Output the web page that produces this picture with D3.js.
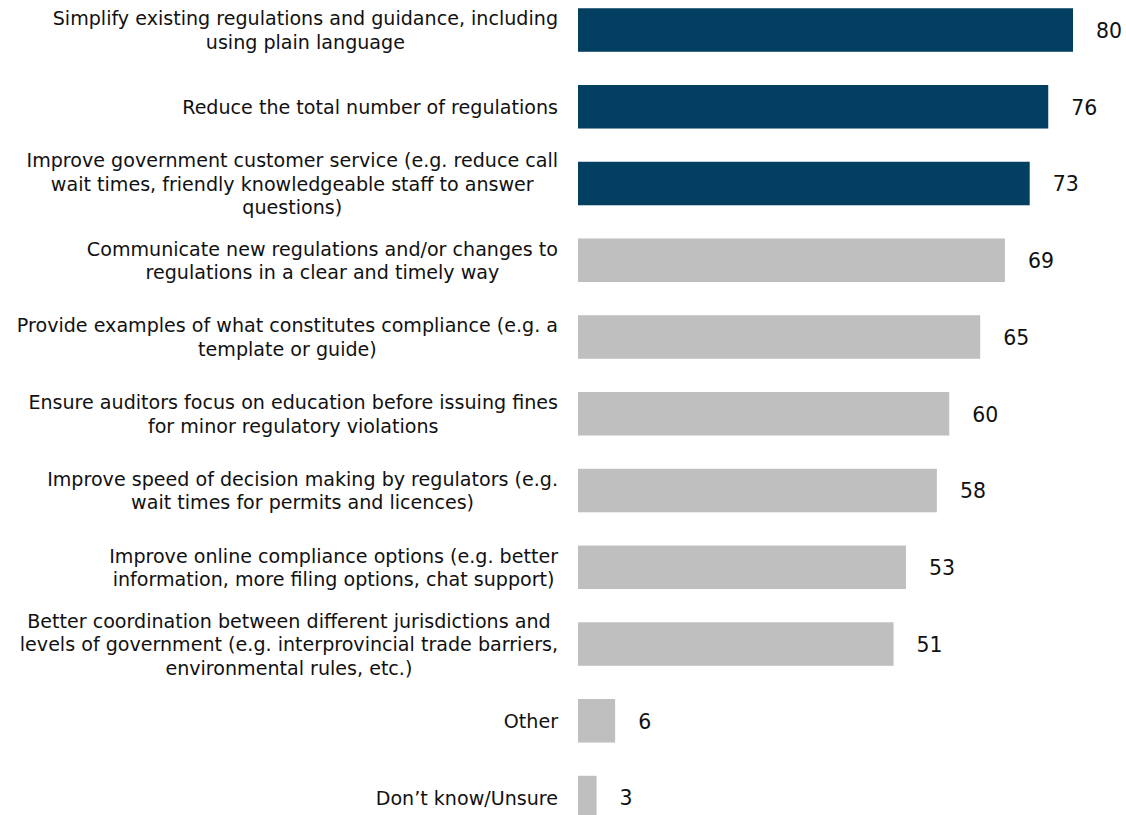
<!DOCTYPE html>
<html>
<head>
<meta charset="utf-8">
<script src="https://cdn.jsdelivr.net/npm/d3@7"></script>
<style>
  html, body { margin: 0; padding: 0; background: #ffffff; }
  svg { display: block; }
  text { font-family: "DejaVu Sans", "Noto Sans", sans-serif; fill: #111111; }
</style>
</head>
<body>
<svg id="chart" width="1126" height="815"></svg>
<script>
// Category labels, one array of lines per bar (top to bottom)
const categories = [
  ["Simplify existing regulations and guidance, including", "using plain language"],
  ["Reduce the total number of regulations"],
  ["Improve government customer service (e.g. reduce call", "wait times, friendly knowledgeable staff to answer", "questions)"],
  ["Communicate new regulations and/or changes to", "regulations in a clear and timely way"],
  ["Provide examples of what constitutes compliance (e.g. a", "template or guide)"],
  ["Ensure auditors focus on education before issuing fines", "for minor regulatory violations"],
  ["Improve speed of decision making by regulators (e.g.", "wait times for permits and licences)"],
  ["Improve online compliance options (e.g. better", "information, more filing options, chat support)"],
  ["Better coordination between different jurisdictions and", "levels of government (e.g. interprovincial trade barriers,", "environmental rules, etc.)"],
  ["Other"],
  ["Don\u2019t know/Unsure"]
];

// Share of respondents (%)
const values = [80, 76, 73, 69, 65, 60, 58, 53, 51, 6, 3];

// Top three options are highlighted
const highlighted = [true, true, true, false, false, false, false, false, false, false, false];

const colors = { highlight: "#023f61", base: "#bfbfbf" };

const svg = d3.select("#chart");
const ids = d3.range(values.length);

const y = d3.scaleBand()
  .domain(ids)
  .range([8.25, 819.3])
  .paddingInner(0.433)
  .paddingOuter(0);

const x = d3.scaleLinear()
  .domain([0, 80])
  .range([578, 1073]);

// Bars
svg.append("g")
  .selectAll("rect")
  .data(ids)
  .join("rect")
  .attr("x", x(0))
  .attr("y", i => y(i))
  .attr("width", i => x(values[i]) - x(0))
  .attr("height", y.bandwidth())
  .attr("fill", i => highlighted[i] ? colors.highlight : colors.base);

// Value labels
const valG = svg.append("g");
ids.forEach(i => {
  valG.append("g")
    .attr("transform", `translate(${x(values[i]) + 23},${y(i) + y.bandwidth() / 2}) scale(0.93,1)`)
    .append("text")
    .attr("x", 0)
    .attr("y", 0)
    .attr("dy", "0.36em")
    .style("font-size", "22px")
    .text(values[i]);
});

// Category labels: each block is right-aligned against the bars,
// with its lines centred on one another
const labelFont = 20;
const lineH = 23.5;
const labelX = 558;
const sx = 0.955;
const labG = svg.append("g");
ids.forEach(i => {
  const lines = categories[i];
  const cy = y(i) + y.bandwidth() / 2;
  const g = labG.append("g")
    .attr("transform", `translate(${labelX},${cy}) scale(${sx},1)`);
  const t = g.append("text")
    .attr("text-anchor", "middle")
    .style("font-size", labelFont + "px");
  const spans = lines.map((ln, k) => t.append("tspan")
    .attr("y", (k - (lines.length - 1) / 2) * lineH)
    .attr("dy", "0.36em")
    .text(ln));
  const maxW = d3.max(spans, s => s.node().getComputedTextLength());
  spans.forEach(s => s.attr("x", -maxW / 2));
});
</script>
</body>
</html>
